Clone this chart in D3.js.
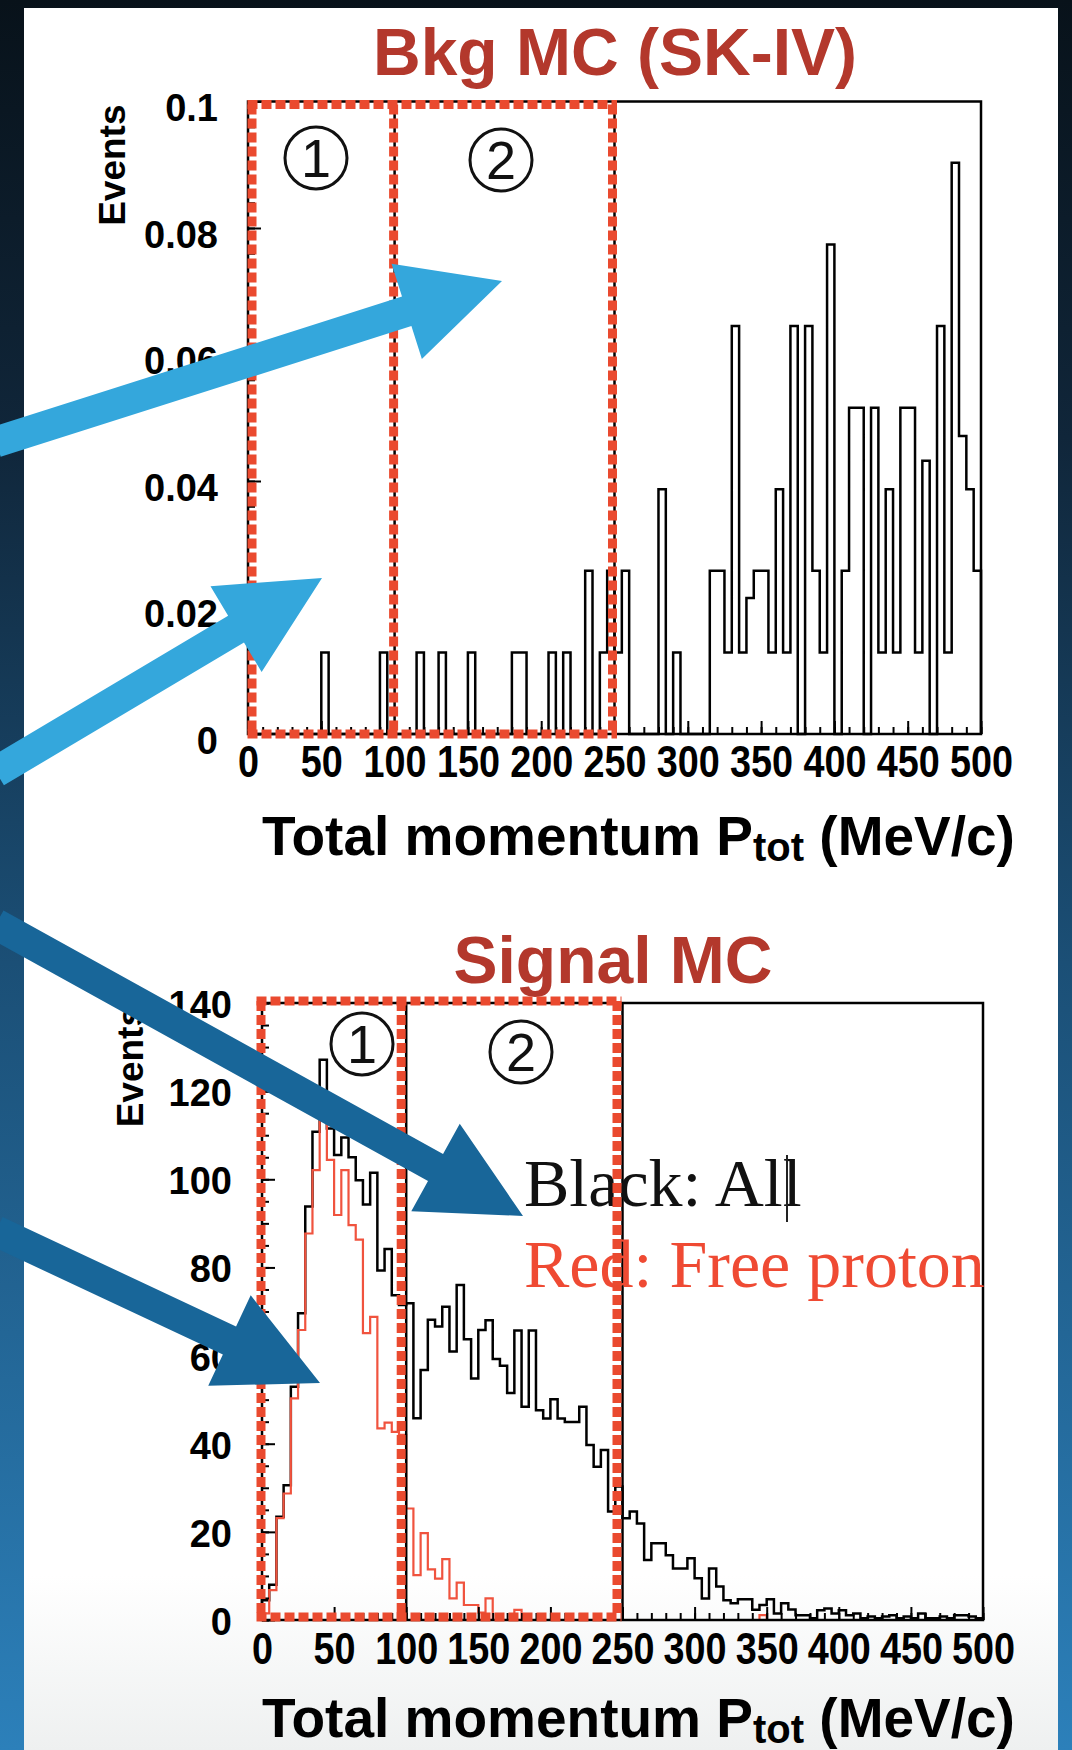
<!DOCTYPE html>
<html>
<head>
<meta charset="utf-8">
<script src="https://cdn.jsdelivr.net/npm/d3@7"></script>
<style>
  body { margin: 0; background: #0b1620; }
  svg { display: block; }
</style>
</head>
<body>
<script>
// ---- data (5 MeV/c bins, 0..500) ----
const binWidth = 5;
const xTicks = [0, 50, 100, 150, 200, 250, 300, 350, 400, 450, 500];
const cutEdges = [0, 100, 250];

// Bkg MC (SK-IV), events per bin
const bkgEvents = [
  0, 0, 0, 0, 0, 0, 0, 0, 0, 0,
  0.0129, 0, 0, 0, 0, 0, 0, 0, 0.0129, 0,
  0, 0, 0, 0.0129, 0, 0, 0.0129, 0, 0, 0,
  0.0129, 0, 0, 0, 0, 0, 0.0129, 0.0129, 0, 0,
  0, 0.0129, 0, 0.0129, 0, 0, 0.0258, 0, 0.0129, 0.0258,
  0.0129, 0.0258, 0, 0, 0, 0, 0.0387, 0, 0.0129, 0,
  0, 0, 0, 0.0258, 0.0258, 0.0129, 0.0645, 0.0129, 0.0215, 0.0258,
  0.0258, 0.0129, 0.0387, 0.0129, 0.0645, 0, 0.0645, 0.0258, 0.0129, 0.0774,
  0, 0.0258, 0.0516, 0.0516, 0, 0.0516, 0.0129, 0.0387, 0.0129, 0.0516,
  0.0516, 0.0129, 0.0432, 0, 0.0645, 0.0129, 0.0903, 0.0471, 0.0387, 0.0258
];
const bkgYTicks = [0, 0.02, 0.04, 0.06, 0.08, 0.1];

// Signal MC: all events (black) and free proton (red)
const sigAll = [
  4.5, 8, 23.4, 30.6, 52.9, 69.6, 93.8, 110.8, 127.1, 111.5,
  105.5, 109.5, 105, 99.8, 94.3, 101.5, 79.3, 84.2, 73.7, 71.5,
  71.9, 45.8, 56.7, 68.1, 66.6, 71.1, 60.9, 76.0, 63.7, 54.8,
  65.8, 68.0, 59.2, 57.7, 51.5, 65.7, 48.4, 65.7, 47.6, 45.7,
  50.1, 45.7, 44.9, 44.9, 48.4, 39.7, 34.8, 38.6, 24.6, 30.3,
  23.1, 24.6, 21.9, 13.6, 17.4, 17.4, 14.7, 11.7, 11.7, 14.0,
  9.5, 4.9, 11.7, 7.6, 4.5, 3.8, 4.7, 4.7, 2.3, 3.4,
  4.7, 1.5, 3.8, 2.4, 1.1, 1.1, 0.4, 2.2, 2.6, 1.5,
  2.2, 1.1, 1.5, 0.4, 0.8, 0.4, 0.8, 1.1, 0.4, 0.8,
  0.4, 1.5, 0.4, 0.4, 0.8, 0.4, 1.1, 1.1, 0.8, 0.4
];
const sigFreeProton = [
  1.5, 6.8, 23.1, 28.7, 50.3, 65.8, 87.7, 102.1, 114.2, 104.4,
  91.9, 102.1, 89.6, 86.3, 65.1, 68.8, 43.5, 44.8, 42.7, 42.0,
  25.3, 10.2, 19.7, 11.5, 9.4, 13.8, 4.9, 8.5, 3.4, 3.4,
  1.7, 4.9, 0, 0, 0, 2.3, 0, 0, 0, 0,
  0, 0, 0, 0, 0, 0, 0, 0, 0, 0,
  0, 0, 0, 0, 0, 0, 0, 0, 0, 0,
  0, 0, 0, 0, 0, 0, 0, 0, 0, 1.1,
  0, 0, 0, 0, 0, 0, 0, 0, 0, 0,
  0, 0, 0, 0, 0, 0, 0, 0, 0, 0,
  0, 0, 0, 0, 0, 0, 0, 0, 0, 0
];
const sigYTicks = [0, 20, 40, 60, 80, 100, 120, 140];

const W = 1072, H = 1750;
const SANS = "'Liberation Sans', Arial, Helvetica, sans-serif";
const SERIF = "'Liberation Serif', 'Times New Roman', serif";
const TITLE_RED = '#b3382c';
const BOX_RED = '#ea4a2f';
const HIST_RED = '#f0533e';

const svg = d3.select('body').append('svg').attr('width', W).attr('height', H);
const defs = svg.append('defs');

const bg = defs.append('linearGradient').attr('id', 'bg')
  .attr('x1', 0).attr('y1', 0).attr('x2', 0).attr('y2', 1);
[[0, '#08121a'], [0.25, '#10263a'], [0.55, '#1b4f76'], [1, '#2c80ba']]
  .forEach(([o, c]) => bg.append('stop').attr('offset', o).attr('stop-color', c));

const pg = defs.append('linearGradient').attr('id', 'panel')
  .attr('x1', 0).attr('y1', 0).attr('x2', 0).attr('y2', 1);
[[0, '#ffffff'], [0.9, '#ffffff'], [1, '#eef0f0']]
  .forEach(([o, c]) => pg.append('stop').attr('offset', o).attr('stop-color', c));

svg.append('rect').attr('width', W).attr('height', H).attr('fill', 'url(#bg)');
svg.append('rect').attr('x', 24).attr('y', 8).attr('width', 1034).attr('height', H - 8).attr('fill', 'url(#panel)');

function histPoints(values) {
  const pts = [[0, 0]];
  values.forEach((v, i) => pts.push([i * binWidth, v]));
  pts.push([values.length * binWidth, values[values.length - 1]]);
  pts.push([values.length * binWidth, 0]);
  return pts;
}

function drawPlot(cfg) {
  const x = d3.scaleLinear().domain([0, 500]).range([cfg.left, cfg.right]);
  const y = d3.scaleLinear().domain([0, cfg.yMax]).range([cfg.bottom, cfg.top]);
  const g = svg.append('g');

  // histograms
  const line = d3.line().x(d => x(d[0])).y(d => y(d[1])).curve(d3.curveStepAfter);
  cfg.series.forEach(s => {
    g.append('path').attr('d', line(histPoints(s.values)))
      .attr('fill', 'none').attr('stroke', s.color).attr('stroke-width', s.width);
  });

  // ticks (ROOT style, inward)
  const xMajor = g.append('g').attr('transform', `translate(0,${cfg.bottom})`)
    .call(d3.axisBottom(x).tickValues(xTicks).tickSize(-13).tickPadding(cfg.xPad).tickFormat(d3.format('d')));
  g.append('g').attr('transform', `translate(0,${cfg.bottom})`)
    .call(d3.axisBottom(x).tickValues(d3.range(0, 501, 10)).tickSize(-7).tickFormat(''));
  const yMajor = g.append('g').attr('transform', `translate(${cfg.left},0)`)
    .call(d3.axisLeft(y).tickValues(cfg.yTicks).tickSize(-13).tickPadding(30).tickFormat(cfg.yFormat));
  g.append('g').attr('transform', `translate(${cfg.left},0)`)
    .call(d3.axisLeft(y).tickValues(d3.range(0, cfg.yMax + 1e-9, cfg.yMinor)).tickSize(-7).tickFormat(''));
  g.selectAll('.domain').remove();
  g.selectAll('.tick line').attr('stroke', '#000').attr('stroke-width', 2);

  xMajor.selectAll('text')
    .attr('font-family', SANS).attr('font-weight', 'bold').attr('font-size', 45)
    .attr('fill', '#000').attr('transform', 'scale(0.84,1)');
  yMajor.selectAll('text')
    .attr('font-family', SANS).attr('font-weight', 'bold').attr('font-size', 38)
    .attr('fill', '#000').attr('dy', cfg.yDy);

  // frame
  g.append('rect').attr('x', cfg.left).attr('y', cfg.top)
    .attr('width', cfg.right - cfg.left).attr('height', cfg.bottom - cfg.top)
    .attr('fill', 'none').attr('stroke', '#000').attr('stroke-width', 2.5);

  // cut lines at 100 and 250
  g.selectAll('.cut').data(cutEdges.slice(1)).join('line')
    .attr('x1', d => x(d)).attr('x2', d => x(d))
    .attr('y1', cfg.bottom).attr('y2', cfg.top)
    .attr('stroke', '#000').attr('stroke-width', 2.5);

  // titles
  g.append('text').attr('x', cfg.titleX).attr('y', cfg.titleY)
    .attr('text-anchor', 'middle').attr('font-family', SANS).attr('font-weight', 'bold')
    .attr('font-size', 66).attr('fill', TITLE_RED).text(cfg.title);

  const at = g.append('text').attr('x', 262).attr('y', cfg.axisTitleY)
    .attr('font-family', SANS).attr('font-weight', 'bold').attr('font-size', 55).attr('fill', '#000');
  at.append('tspan').text('Total momentum P');
  at.append('tspan').attr('font-size', 40).attr('dy', 6).text('tot');
  at.append('tspan').attr('dy', -6).text(' (MeV/c)');

  g.append('text').attr('transform', `translate(${cfg.eventsX},${cfg.top + 3}) rotate(-90)`)
    .attr('text-anchor', 'end').attr('font-family', SANS).attr('font-weight', 'bold')
    .attr('font-size', 37).attr('fill', '#000').text('Events');

  return { g, x, y };
}

const bkgPlot = drawPlot({
  left: 248, right: 981, top: 101.5, bottom: 734, yMax: 0.1,
  yTicks: bkgYTicks, yMinor: 0.004, yFormat: d => d === 0 ? '0' : String(d),
  yDy: '0.5em', xPad: 11,
  series: [{ values: bkgEvents, color: '#000', width: 2.5 }],
  title: 'Bkg MC (SK-IV)', titleX: 615, titleY: 75,
  axisTitleY: 855, eventsX: 125
});

const sigPlot = drawPlot({
  left: 262, right: 983, top: 1003, bottom: 1620, yMax: 140,
  yTicks: sigYTicks, yMinor: 5, yFormat: d3.format('d'),
  yDy: '0.38em', xPad: 12,
  series: [
    { values: sigAll, color: '#000', width: 2.5 },
    { values: sigFreeProton, color: HIST_RED, width: 2.2 }
  ],
  title: 'Signal MC', titleX: 613, titleY: 983,
  axisTitleY: 1737, eventsX: 143
});

// legend text in signal plot
sigPlot.g.append('text').attr('x', 524).attr('y', 1206)
  .attr('font-family', SERIF).attr('font-size', 68).attr('fill', '#111').text('Black: All');
sigPlot.g.append('line').attr('x1', 787).attr('x2', 787).attr('y1', 1155).attr('y2', 1222)
  .attr('stroke', '#222').attr('stroke-width', 2);
sigPlot.g.append('text').attr('x', 524).attr('y', 1287)
  .attr('font-family', SERIF).attr('font-size', 68).attr('fill', '#ef4a33').text('Red: Free proton');

// red dashed cut regions: outline 0..250 plus divider at 100
function regionBoxes(p, inset) {
  const xs = [p.x(cutEdges[0]) + inset.l, p.x(cutEdges[1]) + inset.m, p.x(cutEdges[2]) + inset.r];
  const yTop = p.y.range()[1] + inset.t, yBot = p.y.range()[0] + inset.b;
  const segs = [
    [xs[0] - 4.5, yTop, xs[2] + 4.5, yTop],
    [xs[0] - 4.5, yBot, xs[2] + 4.5, yBot],
    ...xs.map(xv => [xv, yTop, xv, yBot])
  ];
  p.g.append('g').selectAll('line').data(segs).join('line')
    .attr('x1', d => d[0]).attr('y1', d => d[1]).attr('x2', d => d[2]).attr('y2', d => d[3])
    .attr('stroke', BOX_RED).attr('stroke-width', 9).attr('stroke-dasharray', '10,4');
}
regionBoxes(bkgPlot, { l: 4, m: -1, r: -2, t: 3, b: 0 });
regionBoxes(sigPlot, { l: -1, m: -5, r: -5.5, t: -2, b: -3 });

// circled region numbers
const circled = [
  { g: bkgPlot.g, cx: 316, cy: 158, label: '1' },
  { g: bkgPlot.g, cx: 501, cy: 160, label: '2' },
  { g: sigPlot.g, cx: 362, cy: 1044, label: '1' },
  { g: sigPlot.g, cx: 521, cy: 1052, label: '2' }
];
circled.forEach(c => {
  c.g.append('circle').attr('cx', c.cx).attr('cy', c.cy).attr('r', 31)
    .attr('fill', 'none').attr('stroke', '#111').attr('stroke-width', 3);
  c.g.append('text').attr('x', c.cx).attr('y', c.cy + 19).attr('text-anchor', 'middle')
    .attr('font-family', SANS).attr('font-size', 54).attr('fill', '#111').text(c.label);
});

// arrows
function arrowPoints(x0, y0, x1, y1, shaft, headW, headL) {
  const dx = x1 - x0, dy = y1 - y0, len = Math.hypot(dx, dy);
  const ux = dx / len, uy = dy / len, nx = -uy, ny = ux;
  const bx = x1 - ux * headL, by = y1 - uy * headL;
  const s = shaft / 2, h = headW / 2;
  return [[x0 + nx * s, y0 + ny * s], [bx + nx * s, by + ny * s], [bx + nx * h, by + ny * h],
          [x1, y1], [bx - nx * h, by - ny * h], [bx - nx * s, by - ny * s], [x0 - nx * s, y0 - ny * s]];
}
const arrows = [
  { from: [-4, 442], to: [502, 281], color: '#34a7dc' },
  { from: [-4, 772], to: [322, 578], color: '#34a7dc' },
  { from: [-4, 924], to: [523, 1216], color: '#186699' },
  { from: [-4, 1231], to: [320, 1383], color: '#186699' }
];
svg.append('g').selectAll('polygon').data(arrows).join('polygon')
  .attr('points', d => arrowPoints(d.from[0], d.from[1], d.to[0], d.to[1], 31, 100, 100).map(p => p.join(',')).join(' '))
  .attr('fill', d => d.color);
</script>
</body>
</html>
